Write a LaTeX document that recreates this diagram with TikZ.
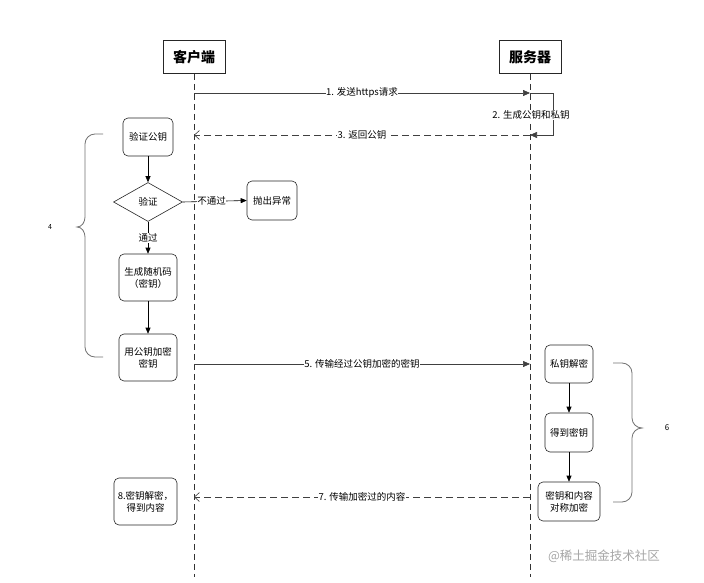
\documentclass[tikz,border=0pt]{standalone}
\usepackage{fontspec}
\newfontfamily\cjk{Noto Sans CJK SC}
\usetikzlibrary{arrows.meta,shapes.geometric}
\begin{document}
\begin{tikzpicture}[x=1pt,y=-1pt,
  font=\cjk\fontsize{9.5}{12}\selectfont,
  proc/.style={draw=black!85, rounded corners=5pt, line width=0.6pt, align=center, inner sep=1pt},
  hdr/.style={draw=black!85, line width=0.8pt, minimum width=62pt, minimum height=33pt, inner sep=0pt, font=\cjk\bfseries\fontsize{14}{16}\selectfont},
  life/.style={draw=black!80, line width=0.6pt, dash pattern=on 6pt off 4pt},
  msg/.style={draw=black!75, line width=0.6pt, -{Triangle[length=7pt,width=6pt]}},
  ret/.style={draw=black!75, line width=0.6pt, dash pattern=on 7pt off 4pt, -{Straight Barb[length=5pt,width=9pt]}},
  lbl/.style={fill=white, inner sep=0.5pt},
  flow/.style={draw=black, line width=0.6pt, -{Triangle[length=6pt,width=5pt]}},
  brc/.style={draw=black!55, line width=0.8pt}
]
\useasboundingbox[fill=white] (0,0) rectangle (704,583);

% headers and lifelines
\node[hdr] (cH) at (194,57) {客户端};
\node[hdr] (sH) at (530,57) {服务器};
\coordinate (cEnd) at (194,577);
\coordinate (sEnd) at (530,577);
\draw[life] (cH.south) -- (cEnd);
\draw[life] (sH.south) -- (sEnd);

% message coordinates
\coordinate (c1) at (194,93);
\coordinate (s1) at (530,93);
\coordinate (l1) at (553,93);
\coordinate (l2) at (553,135);
\coordinate (s3) at (530,135);
\coordinate (c3) at (194,135);
\coordinate (c5) at (194,364);
\coordinate (s5) at (530,364);
\coordinate (c7) at (194,497);
\coordinate (s7) at (530,497);

\draw[msg] (c1) -- node[lbl] {1. 发送https请求} (s1);
\draw[msg] (s1) -- (l1) -- (l2) -- (s3);
\node[lbl] (lab2) at (531,115) {2. 生成公钥和私钥};
\draw[ret] (s3) -- node[lbl] {3. 返回公钥} (c3);
\draw[msg] (c5) -- node[lbl] {5. 传输经过公钥加密的密钥} (s5);
\draw[ret] (s7) -- node[lbl] {7. 传输加密过的内容} (c7);

% client side flow
\node[proc, minimum width=50pt, minimum height=38pt] (vk) at (148,137) {验证公钥};
\node[draw=black!85, line width=0.6pt, diamond, minimum width=69pt, minimum height=39pt, inner sep=0pt] (dia) at (148,202) {验证};
\node[proc, minimum width=50pt, minimum height=39pt] (exc) at (272,200.5) {抛出异常};
\node[proc, minimum width=58pt, minimum height=47pt] (gen) at (148,277.5) {生成随机码\\（密钥）};
\node[proc, minimum width=58pt, minimum height=47pt] (enc) at (148,357.5) {用公钥加密\\密钥};
\node[proc, minimum width=63pt, minimum height=47pt] (r8) at (145.5,501.5) {8.密钥解密，\\得到内容};

\draw[flow] (vk) -- (dia);
\draw[flow] (dia) -- node[lbl] {通过} (gen);
\draw[flow] (gen) -- (enc);
\draw[flow] (dia.east) -- node[lbl, pos=0.45] {不通过} (exc.west);

% server side flow
\node[proc, minimum width=48pt, minimum height=38pt] (dec) at (569,364) {私钥解密};
\node[proc, minimum width=48pt, minimum height=39pt] (get) at (569,432.5) {得到密钥};
\node[proc, minimum width=62pt, minimum height=39pt] (sym) at (569,501.5) {密钥和内容\\对称加密};
\draw[flow] (dec) -- (get);
\draw[flow] (get) -- (sym);

% braces
\draw[brc] (103,134) -- (95,134) to[out=180,in=90] (85,144) -- (85,217) to[out=-90,in=0] (77,227) to[out=0,in=90] (85,237) -- (85,347) to[out=-90,in=180] (95,357) -- (103,357);
\node[font=\cjk\fontsize{7}{8}\selectfont] (n4) at (50,227) {4};
\draw[brc] (613,363) -- (622,363) to[out=0,in=90] (632,373) -- (632,418) to[out=-90,in=180] (642,428) to[out=180,in=90] (632,438) -- (632,492) to[out=-90,in=0] (622,502) -- (613,502);
\node[font=\cjk\fontsize{8}{9}\selectfont] (n6) at (667,428) {6};

% watermark
\node[text=black!35, font=\cjk\fontsize{12.5}{14}\selectfont] (wm) at (604,556) {@稀土掘金技术社区};
\end{tikzpicture}
\end{document}
